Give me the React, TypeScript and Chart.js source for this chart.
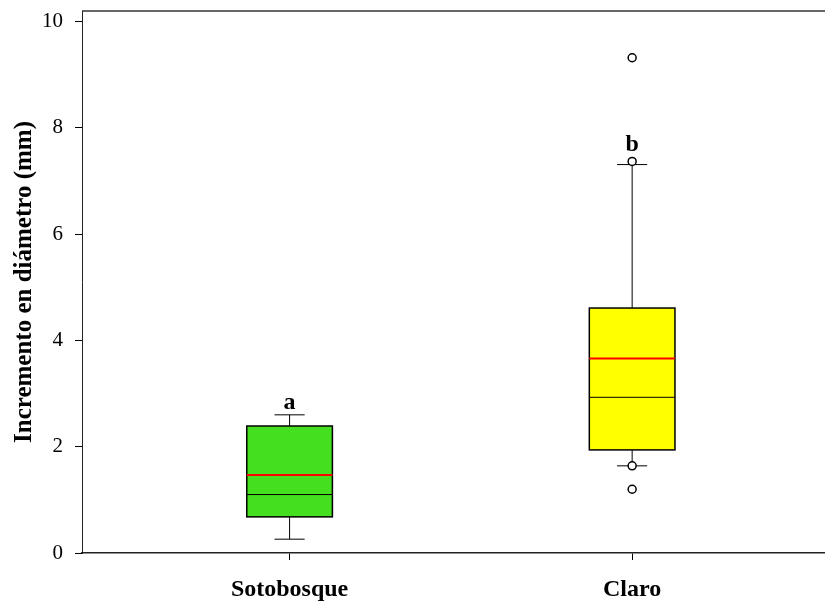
import { useEffect, useRef } from "react";
import { Chart, registerables } from "chart.js";

Chart.register(...registerables);

// Summary statistics per group (mm)
const categories = ["Sotobosque", "Claro"];
const whiskerLow = [0.26, 1.64];
const q1 = [0.68, 1.94];
const medians = [1.1, 2.93];
const means = [1.47, 3.66];
const q3 = [2.39, 4.61];
const whiskerHigh = [2.6, 7.31];
const outliers: number[][] = [[], [9.32, 7.37, 1.64, 1.2]];
const groupLetters = ["a", "b"];
const boxFills = ["#44e01f", "#ffff00"];
const yTicks = [0, 2, 4, 6, 8, 10];

const FONT = "'Liberation Serif', 'Times New Roman', serif";
const BOX_HALF = 0.125; // half box width, x units
const CAP_HALF = 0.044; // half whisker cap width, x units
const POINT_R = 4;

const boxPlotPlugin = {
  id: "boxPlot",
  beforeDatasetsDraw(chart: any) {
    const { ctx, scales } = chart;
    const xs = scales.x;
    const ys = scales.y;
    categories.forEach((_, i) => {
      const cx = i + 1;
      const xl = xs.getPixelForValue(cx - BOX_HALF);
      const xr = xs.getPixelForValue(cx + BOX_HALF);
      const xc = xs.getPixelForValue(cx);
      const cl = xs.getPixelForValue(cx - CAP_HALF);
      const cr = xs.getPixelForValue(cx + CAP_HALF);
      const yq1 = ys.getPixelForValue(q1[i]);
      const yq3 = ys.getPixelForValue(q3[i]);
      const ylo = ys.getPixelForValue(whiskerLow[i]);
      const yhi = ys.getPixelForValue(whiskerHigh[i]);
      const ymed = ys.getPixelForValue(medians[i]);
      const ymean = ys.getPixelForValue(means[i]);

      ctx.save();
      // whiskers
      ctx.strokeStyle = "#000";
      ctx.lineWidth = 1;
      ctx.beginPath();
      ctx.moveTo(xc, yq3);
      ctx.lineTo(xc, yhi);
      ctx.moveTo(cl, yhi);
      ctx.lineTo(cr, yhi);
      ctx.moveTo(xc, yq1);
      ctx.lineTo(xc, ylo);
      ctx.moveTo(cl, ylo);
      ctx.lineTo(cr, ylo);
      ctx.stroke();

      // box
      ctx.fillStyle = boxFills[i];
      ctx.fillRect(xl, yq3, xr - xl, yq1 - yq3);
      ctx.lineWidth = 1.5;
      ctx.strokeRect(xl, yq3, xr - xl, yq1 - yq3);

      // median
      ctx.lineWidth = 1;
      ctx.beginPath();
      ctx.moveTo(xl, ymed);
      ctx.lineTo(xr, ymed);
      ctx.stroke();

      // mean
      ctx.strokeStyle = "#ff0000";
      ctx.lineWidth = 2;
      ctx.beginPath();
      ctx.moveTo(xl, ymean);
      ctx.lineTo(xr, ymean);
      ctx.stroke();
      ctx.restore();
    });
  },
  afterDatasetsDraw(chart: any) {
    const { ctx, scales, chartArea } = chart;
    const xs = scales.x;
    const ys = scales.y;
    ctx.save();
    // top frame line
    ctx.strokeStyle = "#333";
    ctx.lineWidth = 1.5;
    ctx.beginPath();
    ctx.moveTo(chartArea.left, chartArea.top);
    ctx.lineTo(chartArea.right, chartArea.top);
    ctx.stroke();

    // group letters above the upper whisker
    ctx.fillStyle = "#000";
    ctx.font = `bold 24px ${FONT}`;
    ctx.textAlign = "center";
    ctx.textBaseline = "alphabetic";
    categories.forEach((_, i) => {
      let top = ys.getPixelForValue(whiskerHigh[i]);
      outliers[i].forEach((v) => {
        if (v >= whiskerHigh[i] && v <= whiskerHigh[i] + 0.5) {
          top = Math.min(top, ys.getPixelForValue(v) - POINT_R);
        }
      });
      ctx.fillText(groupLetters[i], xs.getPixelForValue(i + 1), top - 6);
    });
    ctx.restore();
  },
};

export default function App() {
  const canvasRef = useRef<HTMLCanvasElement | null>(null);

  useEffect(() => {
    const canvas = canvasRef.current;
    if (!canvas) return;
    const points = outliers.flatMap((vals, i) => vals.map((v) => ({ x: i + 1, y: v })));
    const chart = new Chart(canvas, {
      type: "scatter",
      data: {
        datasets: [
          {
            data: points,
            pointRadius: POINT_R,
            pointHoverRadius: POINT_R,
            pointBorderWidth: 1.5,
            pointBorderColor: "#000",
            pointBackgroundColor: "#fff",
          },
        ],
      },
      options: {
        responsive: false,
        animation: false,
        devicePixelRatio: 1,
        layout: { autoPadding: false, padding: { top: 11, right: 0, left: 0, bottom: 0 } },
        plugins: {
          legend: { display: false },
          tooltip: { enabled: false },
        },
        scales: {
          x: {
            type: "linear",
            min: 0.394,
            max: 2.563,
            afterBuildTicks: (s: any) => {
              s.ticks = categories.map((_, i) => ({ value: i + 1 }));
            },
            afterFit: (s: any) => {
              s.height = 51;
              s.paddingLeft = 0;
              s.paddingRight = 0;
            },
            ticks: {
              callback: (v: any) => categories[Number(v) - 1] ?? "",
              color: "#000",
              font: { family: FONT, size: 24, weight: "bold" },
              padding: 15,
              maxRotation: 0,
              autoSkip: false,
            },
            grid: { drawOnChartArea: false, tickLength: 7, color: "#000" },
            border: { color: "#222", width: 1.5 },
          },
          y: {
            min: 0,
            max: 10.2,
            afterBuildTicks: (s: any) => {
              s.ticks = yTicks.map((v) => ({ value: v }));
            },
            afterFit: (s: any) => {
              s.width = 82;
              s.paddingTop = 0;
              s.paddingBottom = 0;
            },
            ticks: {
              color: "#000",
              font: { family: FONT, size: 21 },
              padding: 12,
            },
            grid: { drawOnChartArea: false, tickLength: 7, color: "#000" },
            border: { color: "#222", width: 1 },
            title: {
              display: true,
              text: "Incremento en diámetro (mm)",
              color: "#000",
              font: { family: FONT, size: 25, weight: "bold" },
              padding: { top: 10, bottom: 0 },
            },
          },
        },
      },
      plugins: [boxPlotPlugin],
    });
    return () => chart.destroy();
  }, []);

  return (
    <div style={{ position: "fixed", left: 0, top: 0, width: 825, height: 604, background: "#fff" }}>
      <canvas ref={canvasRef} width={825} height={604} />
    </div>
  );
}
